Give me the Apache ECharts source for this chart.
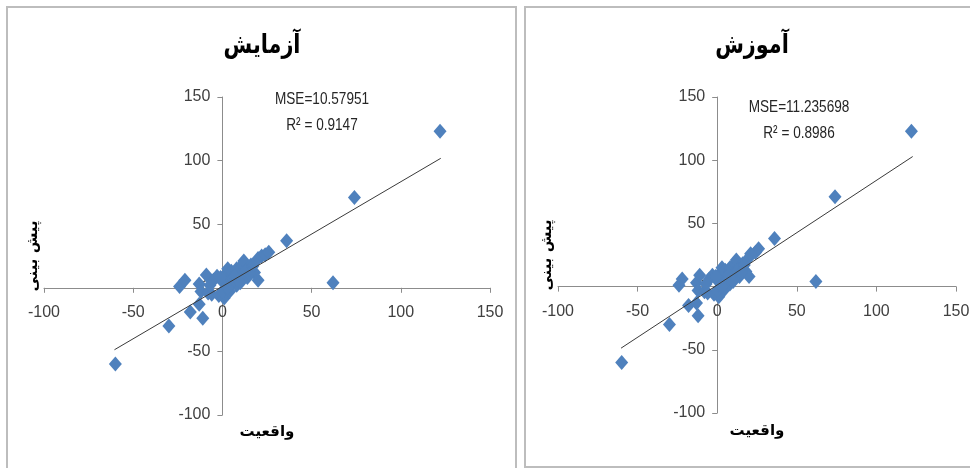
<!DOCTYPE html>
<html>
<head>
<meta charset="utf-8">
<script src="https://cdn.jsdelivr.net/npm/echarts@6/dist/echarts.min.js"></script>
<style>
html,body{margin:0;padding:0;background:#fff;}
#c{width:970px;height:468px;}
</style>
</head>
<body>
<div id="c"></div>
<script>
// Titles and annotations
const panelTitles = ['آزمایش', 'آموزش'];
const statsMSE = ['MSE=10.57951', 'MSE=11.235698'];
const statsR2 = ['R² = 0.9147', 'R² = 0.8986'];
const xAxisName = 'واقعیت';
const yAxisName = 'پیش بینی';
const axisTicks = [-100, -50, 0, 50, 100, 150];

// Test (آزمایش) points: actual, predicted
const testActual = [122, 74, 36, 62, -60, -30, -18, -11, -13,
  -24, -21, -13, -12, -9, -5, -3, -8, -6, -2, 1, 0, 2, 3, 5, 8, 11, 12, 16, 18, 20, 20, 22, 24, 26,
  14, 8, 4, 0, 2, 5, 6, 10, -7, -1, 3, 7, 13, 17, 10, 15];
const testPred = [123, 71, 37, 4, -60, -30, -19, -24, -13,
  1, 6, 3, -3, 10, 6, 9, -4, -5, -6, -8, -3, 11, 15, 13, 15, 18, 21, 18, 12, 6, 23, 25, 26, 28,
  8, 2, -3, 5, 3, 7, 5, 10, 2, 8, 0, 9, 13, 17, 4, 11];

// Train (آموزش) points: actual, predicted
const trainActual = [122, 74, 36, 62, -60, -30, -18, -12, -13,
  -24, -22, -13, -12, -11, -5, -3, -8, -6, -2, 1, 0, 2, 3, 5, 8, 11, 12, 16, 18, 20, 20, 21, 24, 26,
  14, 8, 4, 0, 2, 5, 6, 10, -7, -1, 3, 7, 13, 17, 10, 15];
const trainPred = [123, 71, 38, 4, -60, -30, -15, -23, -13,
  1, 6, 3, -3, 9, 6, 9, -4, -5, -6, -8, -3, 11, 15, 13, 15, 18, 21, 18, 12, 8, 23, 26, 27, 30,
  8, 2, -3, 5, 3, 7, 5, 10, 2, 8, 0, 9, 13, 17, 4, 11];

// Trendline endpoints
const testTrendX = [-60.5, 122.4];
const testTrendY = [-48.7, 101.8];
const trainTrendX = [-60.4, 122.8];
const trainTrendY = [-48.7, 102.9];

const axisMin = -100, axisMax = 150;

const numFont = "'Liberation Sans Narrow', 'Arial Narrow', 'Liberation Sans', sans-serif";
const arFont = "'DejaVu Sans', sans-serif";

function pairs(xs, ys) { return xs.map((x, i) => [x, ys[i]]); }

const W = 970, H = 468;
const grids = [
  {left: 44, right: 480, top: 97, bottom: 53, containLabel: false, outerBoundsMode: 'none'},
  {left: 558, right: 14, top: 97, bottom: 55, containLabel: false, outerBoundsMode: 'none'}
];
// offsets that place each axis where the other axis crosses zero
const frac0 = (0 - axisMin) / (axisMax - axisMin);
const xOffsets = grids.map(g => -frac0 * (H - g.top - g.bottom));
const yOffsets = grids.map(g => -frac0 * (W - g.left - g.right));

const yNameGap = [182, 163];
const xNameGap = [137, 137];

const xAxes = grids.map((g, i) => ({
  type: 'value', gridIndex: i, min: axisMin, max: axisMax, interval: 50,
  position: 'bottom', offset: xOffsets[i],
  axisLine: {onZero: false, lineStyle: {color: '#8c8c8c', width: 1}},
  axisTick: {show: true, length: 5, lineStyle: {color: '#8c8c8c'}},
  axisLabel: {fontFamily: numFont, fontSize: 16, color: '#404040', margin: 17,
    formatter: v => axisTicks.includes(v) ? String(v) : ''},
  splitLine: {show: false},
  name: xAxisName, nameLocation: 'middle', nameGap: xNameGap[i],
  nameTextStyle: {fontFamily: arFont, fontWeight: 'bold', fontSize: 15, color: '#000'}
}));
const yAxes = grids.map((g, i) => ({
  type: 'value', gridIndex: i, min: axisMin, max: axisMax, interval: 50,
  position: 'left', offset: yOffsets[i],
  axisLine: {onZero: false, lineStyle: {color: '#8c8c8c', width: 1}},
  axisTick: {show: true, length: 5, lineStyle: {color: '#8c8c8c'}},
  axisLabel: {fontFamily: numFont, fontSize: 16, color: '#404040', margin: 12,
    formatter: v => axisTicks.includes(v) ? String(v) : ''},
  splitLine: {show: false},
  name: yAxisName, nameLocation: 'middle', nameGap: yNameGap[i], nameRotate: 90,
  nameTextStyle: {fontFamily: arFont, fontWeight: 'bold', fontSize: 15, color: '#000'}
}));

const pointSets = [pairs(testActual, testPred), pairs(trainActual, trainPred)];
const trendSets = [pairs(testTrendX, testTrendY), pairs(trainTrendX, trainTrendY)];

const series = [];
[0, 1].forEach(i => {
  series.push({
    type: 'line', xAxisIndex: i, yAxisIndex: i, data: trendSets[i],
    symbol: 'none', silent: true, z: 3,
    lineStyle: {color: '#3a3a3a', width: 1}
  });
  series.push({
    type: 'scatter', xAxisIndex: i, yAxisIndex: i, data: pointSets[i],
    symbol: 'diamond', symbolSize: [13, 15], z: 2,
    itemStyle: {color: '#4F81BD', opacity: 1}
  });
});

const titleX = [262, 752];
const statX = [322, 799];
const mseY = [99, 107];
const r2Y = [125, 133];

const graphic = [
  {type: 'rect', shape: {x: 7, y: 7, width: 509, height: 480}, style: {fill: 'none', stroke: '#bdbdbd', lineWidth: 2}, z: -1},
  {type: 'rect', shape: {x: 525, y: 7, width: 470, height: 460}, style: {fill: 'none', stroke: '#bdbdbd', lineWidth: 2}, z: -1}
];
[0, 1].forEach(i => {
  graphic.push({type: 'text', x: titleX[i], y: 46, scaleX: 0.8, style: {text: panelTitles[i], font: "bold 26px 'DejaVu Sans'", fill: '#000', textAlign: 'center', textVerticalAlign: 'middle'}});
  graphic.push({type: 'text', x: statX[i], y: mseY[i], scaleX: 0.8, style: {text: statsMSE[i], font: "17px " + numFont, fill: '#262626', textAlign: 'center', textVerticalAlign: 'middle'}});
  graphic.push({type: 'text', x: statX[i], y: r2Y[i], scaleX: 0.8, style: {text: statsR2[i], font: "17px " + numFont, fill: '#262626', textAlign: 'center', textVerticalAlign: 'middle'}});
});

const chart = echarts.init(document.getElementById('c'), null, {renderer: 'canvas'});
chart.setOption({
  animation: false,
  backgroundColor: '#fff',
  grid: grids,
  xAxis: xAxes,
  yAxis: yAxes,
  series: series,
  graphic: graphic
});
</script>
</body>
</html>
